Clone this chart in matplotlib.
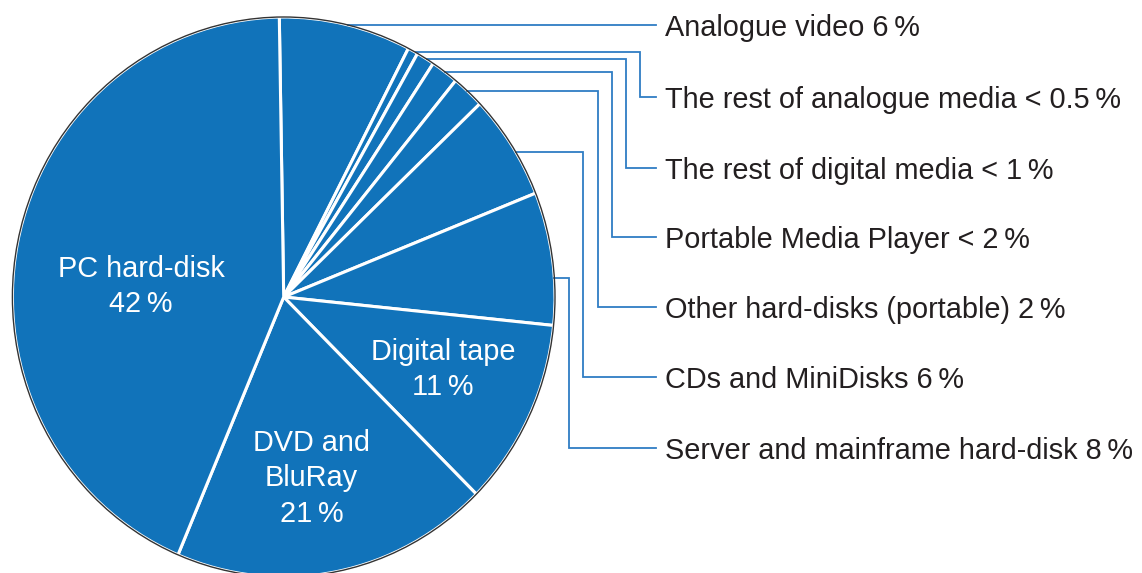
import matplotlib
matplotlib.use('Agg')
import matplotlib.pyplot as plt
from matplotlib.patches import Ellipse
from matplotlib.transforms import Affine2D
import numpy as np

plt.rcParams['font.family'] = ['Liberation Sans', 'DejaVu Sans']

# slice shares (percent of the circle), clockwise from the top
categories = ['Analogue video', 'The rest of analogue media', 'The rest of digital media',
              'Portable Media Player', 'Other hard-disks (portable)', 'CDs and MiniDisks',
              'Server and mainframe hard-disk', 'Digital tape', 'DVD and BluRay', 'PC hard-disk']
shares = [7.86, 0.61, 1.08, 1.64, 1.94, 6.08, 7.67, 10.81, 18.94, 43.37]
pct_text = ['6\u2009%', '< 0.5\u2009%', '< 1\u2009%', '< 2\u2009%', '2\u2009%', '6\u2009%',
            '8\u2009%', '11\u2009%', '21\u2009%', '42\u2009%']

W, H = 1142, 573
blue = '#1173ba'
line_blue = '#2f7dc4'
txt = '#231f20'
fs = 20.8

fig = plt.figure(figsize=(W / 100, H / 100), dpi=100)
ax = fig.add_axes([0, 0, 1, 1])

# the pie is drawn slightly taller than wide, as in the original
cx, cy, rx, ry = 283.7, H - 297, 271.3, 280.0
wedges, _ = ax.pie(shares, startangle=90.93, counterclock=False,
                   colors=[blue] * len(shares),
                   wedgeprops=dict(edgecolor='white', linewidth=2.2))
squash = Affine2D().scale(rx, ry).translate(cx, cy) + ax.transData
for w in wedges:
    w.set_transform(squash)
ax.add_patch(Ellipse((cx, cy), 2 * rx, 2 * ry, fill=False, edgecolor='#333333',
                     linewidth=1.0, zorder=5))
ax.set_xlim(0, W)
ax.set_ylim(0, H)
ax.set_aspect('auto')
ax.axis('off')

# labels inside the big slices: (text, centre x, last baseline y) in pixels from top
inside = {
    'PC hard-disk': ('PC hard-disk', 141, 312),
    'Digital tape': ('Digital tape', 443, 395),
    'DVD and BluRay': ('DVD and\nBluRay', 311.5, 521.5),
}
for name, (label, x, y) in inside.items():
    i = categories.index(name)
    ax.text(x, H - y, label + '\n' + pct_text[i], color='white', fontsize=fs,
            ha='center', va='baseline', linespacing=1.32, zorder=6)

# leader lines for the outside labels: (leader y on pie, elbow x, label y)
leaders = [
    (25, None, 25),
    (52.3, 640, 97),
    (59.3, 626, 168),
    (71.7, 611.7, 237),
    (90.7, 597.7, 307),
    (152.3, 583.3, 377),
    (278.3, 569.3, 448),
]
x_end = 656
for i, (ly, ex, ty) in enumerate(leaders):
    t = ((H - ly) - cy) / ry
    x0 = cx + rx * np.sqrt(1 - t ** 2)
    if ex is None:
        xs, ys = [x0, x_end], [ly, ly]
    else:
        xs, ys = [x0, ex, ex, x_end], [ly, ly, ty, ty]
    ax.plot(xs, [H - v for v in ys], color=line_blue, linewidth=1.3,
            solid_joinstyle='miter', zorder=4)
    ax.text(665, H - ty - 10.8, categories[i] + ' ' + pct_text[i], color=txt, fontsize=fs,
            ha='left', va='baseline')

fig.savefig('out.png', dpi=100)
